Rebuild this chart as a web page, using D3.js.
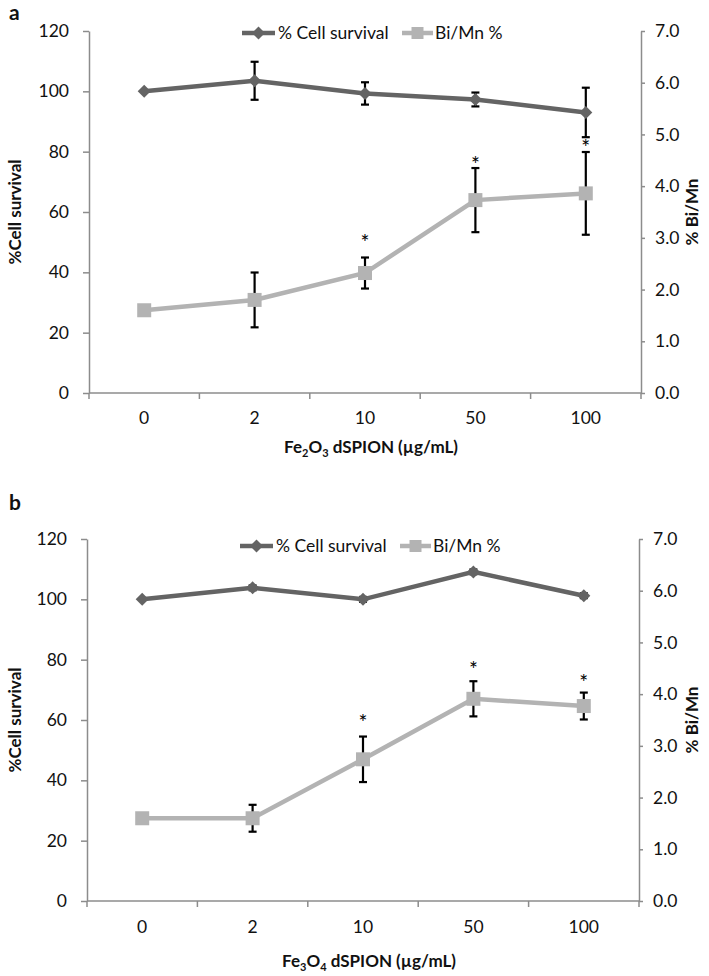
<!DOCTYPE html>
<html><head><meta charset="utf-8">
<script src="https://cdn.jsdelivr.net/npm/d3@7"></script>
<style>
body{margin:0;background:#fff;}
svg{display:block;font-family:Lato,"Open Sans",sans-serif;}
</style></head>
<body>
<script>
// ---- data ----
const categories = ["0", "2", "10", "50", "100"];
const leftTicks = [0, 20, 40, 60, 80, 100, 120];
const rightTicks = [0, 1, 2, 3, 4, 5, 6, 7];

const survivalA = [100, 103.5, 99.3, 97.3, 93.0];
const survivalErrA = [0, 6.3, 3.7, 2.3, 8.2];
const biMnA = [1.6, 1.8, 2.32, 3.73, 3.86];
const biMnErrA = [0, 0.53, 0.3, 0.62, 0.8];
const starA = [null, null, 2.98, 4.49, 4.82];   // significance marks (Bi/Mn axis units)

const survivalB = [100, 103.8, 100, 109.1, 101.2];
const survivalErrB = [0, 0.8, 0.8, 0.8, 0.8];
const biMnB = [1.6, 1.6, 2.74, 3.91, 3.77];
const biMnErrB = [0, 0.26, 0.44, 0.34, 0.26];
const starB = [null, null, 3.52, 4.55, 4.29];

const seriesNames = ["% Cell survival", "Bi/Mn %"];

// ---- layout ----
const W = 709, H = 976;
const darkC = "#646464", lightC = "#b3b3b3", axisC = "#8c8c8c";
const FS = 17.5;
const svg = d3.select("body").append("svg").attr("width", W).attr("height", H);

const panels = [
  {tag: "a", tagY: 20, left: 89, right: 641, top: 31, bottom: 393, legendY: 33,
   catY: 418, titleY: 453, sub1: "2", sub2: "3",
   surv: survivalA, survErr: survivalErrA, bi: biMnA, biErr: biMnErrA, star: starA},
  {tag: "b", tagY: 510, left: 87, right: 639, top: 539, bottom: 901, legendY: 546,
   catY: 927, titleY: 967, sub1: "3", sub2: "4",
   surv: survivalB, survErr: survivalErrB, bi: biMnB, biErr: biMnErrB, star: starB}
];

panels.forEach(p => {
  const g = svg.append("g");
  const x = d3.scaleBand().domain(categories).range([p.left, p.right]);
  const yL = d3.scaleLinear().domain([0, 120]).range([p.bottom, p.top]);
  const yR = d3.scaleLinear().domain([0, 7]).range([p.bottom, p.top]);
  const cx = c => x(c) + x.bandwidth() / 2;

  // panel tag
  g.append("text").attr("x", 9).attr("y", p.tagY).attr("font-size", 21)
    .attr("font-weight", "bold").attr("fill", "#111").text(p.tag);

  // left axis
  const la = g.append("g").attr("transform", `translate(${p.left},0)`)
    .call(d3.axisLeft(yL).tickValues(leftTicks).tickSize(6).tickPadding(14).tickSizeOuter(0));
  // right axis
  const ra = g.append("g").attr("transform", `translate(${p.right},0)`)
    .call(d3.axisRight(yR).tickValues(rightTicks).tickFormat(d3.format(".1f")).tickSize(4).tickPadding(10).tickSizeOuter(0));
  // x axis line
  g.append("line").attr("x1", p.left).attr("x2", p.right).attr("y1", p.bottom).attr("y2", p.bottom)
    .attr("stroke", axisC).attr("stroke-width", 1.5);
  const bounds = categories.map(c => x(c)).concat([x(categories[categories.length - 1]) + x.bandwidth()]);
  g.selectAll(".xt").data(bounds).join("line")
    .attr("x1", d => d).attr("x2", d => d).attr("y1", p.bottom).attr("y2", p.bottom + 6)
    .attr("stroke", axisC).attr("stroke-width", 1.5);
  g.selectAll(".xl").data(categories).join("text")
    .attr("x", d => cx(d)).attr("y", p.catY).attr("dy", "0.35em").attr("text-anchor", "middle")
    .attr("font-size", FS).attr("fill", "#111").text(d => d);

  [la, ra].forEach(a => {
    a.select(".domain").attr("stroke", axisC).attr("stroke-width", 1.5);
    a.selectAll(".tick line").attr("stroke", axisC).attr("stroke-width", 1.5);
    a.selectAll(".tick text").attr("font-size", FS).attr("fill", "#111").attr("font-family", "Lato");
  });

  // axis titles
  const midY = (p.top + p.bottom) / 2;
  g.append("text").attr("transform", `translate(21,${midY}) rotate(-90)`)
    .attr("text-anchor", "middle").attr("font-size", 17).attr("font-weight", "bold").attr("fill", "#111")
    .text("%Cell survival");
  g.append("text").attr("transform", `translate(698,${midY}) rotate(-90)`)
    .attr("text-anchor", "middle").attr("font-size", 17).attr("font-weight", "bold").attr("fill", "#111")
    .text("% Bi/Mn");
  const t = g.append("text").attr("x", (p.left + p.right) / 2 + 6).attr("y", p.titleY)
    .attr("text-anchor", "middle").attr("font-size", 17).attr("font-weight", "bold").attr("fill", "#111");
  t.append("tspan").text("Fe");
  t.append("tspan").attr("font-size", 11).attr("dy", 3.5).text(p.sub1);
  t.append("tspan").attr("dy", -3.5).text("O");
  t.append("tspan").attr("font-size", 11).attr("dy", 3.5).text(p.sub2);
  t.append("tspan").attr("dy", -3.5).text(" dSPION (µg/mL)");

  // error bars
  const errBar = (vals, errs, scale) => {
    const eg = g.append("g").attr("stroke", "#000").attr("stroke-width", 2.2);
    categories.forEach((c, i) => {
      if (!errs[i]) return;
      const X = cx(c), y1 = scale(vals[i] + errs[i]), y2 = scale(vals[i] - errs[i]);
      eg.append("line").attr("x1", X).attr("x2", X).attr("y1", y1).attr("y2", y2);
      eg.append("line").attr("x1", X - 4).attr("x2", X + 4).attr("y1", y1).attr("y2", y1);
      eg.append("line").attr("x1", X - 4).attr("x2", X + 4).attr("y1", y2).attr("y2", y2);
    });
  };
  errBar(p.surv, p.survErr, yL);
  errBar(p.bi, p.biErr, yR);

  // lines
  const lineL = d3.line().x((d, i) => cx(categories[i])).y(d => yL(d));
  const lineR = d3.line().x((d, i) => cx(categories[i])).y(d => yR(d));
  g.append("path").attr("d", lineR(p.bi)).attr("fill", "none").attr("stroke", lightC).attr("stroke-width", 4.5);
  g.append("path").attr("d", lineL(p.surv)).attr("fill", "none").attr("stroke", darkC).attr("stroke-width", 4.5);

  const diamond = (X, Y, r) => `M${X},${Y - r}L${X + r},${Y}L${X},${Y + r}L${X - r},${Y}Z`;
  g.selectAll(".sq").data(p.bi).join("rect")
    .attr("x", (d, i) => cx(categories[i]) - 7).attr("y", d => yR(d) - 7)
    .attr("width", 14).attr("height", 14).attr("fill", lightC);
  g.selectAll(".dm").data(p.surv).join("path")
    .attr("d", (d, i) => diamond(cx(categories[i]), yL(d), 6.5)).attr("fill", darkC);

  // significance stars
  g.selectAll(".st").data(p.star.map((v, i) => ({v, c: categories[i]})).filter(d => d.v != null)).join("text")
    .attr("x", d => cx(d.c)).attr("y", d => yR(d.v) + 11).attr("text-anchor", "middle")
    .attr("font-size", 21).attr("fill", "#000").text("*");

  // legend
  const lg = g.append("g");
  const ly = p.legendY, off = p.left - 89;
  lg.append("line").attr("x1", 242 + off).attr("x2", 275 + off).attr("y1", ly).attr("y2", ly)
    .attr("stroke", darkC).attr("stroke-width", 4.5);
  lg.append("path").attr("d", diamond(258.5 + off, ly, 6.5)).attr("fill", darkC);
  lg.append("text").attr("x", 278 + off).attr("y", ly).attr("dy", "0.35em").attr("font-size", FS)
    .attr("fill", "#111").text(seriesNames[0]);
  lg.append("line").attr("x1", 402 + off).attr("x2", 433 + off).attr("y1", ly).attr("y2", ly)
    .attr("stroke", lightC).attr("stroke-width", 4.5);
  lg.append("rect").attr("x", 417.5 + off - 6).attr("y", ly - 6).attr("width", 12).attr("height", 12).attr("fill", lightC);
  lg.append("text").attr("x", 435 + off).attr("y", ly).attr("dy", "0.35em").attr("font-size", FS)
    .attr("fill", "#111").text(seriesNames[1]);
});
</script>
</body></html>
